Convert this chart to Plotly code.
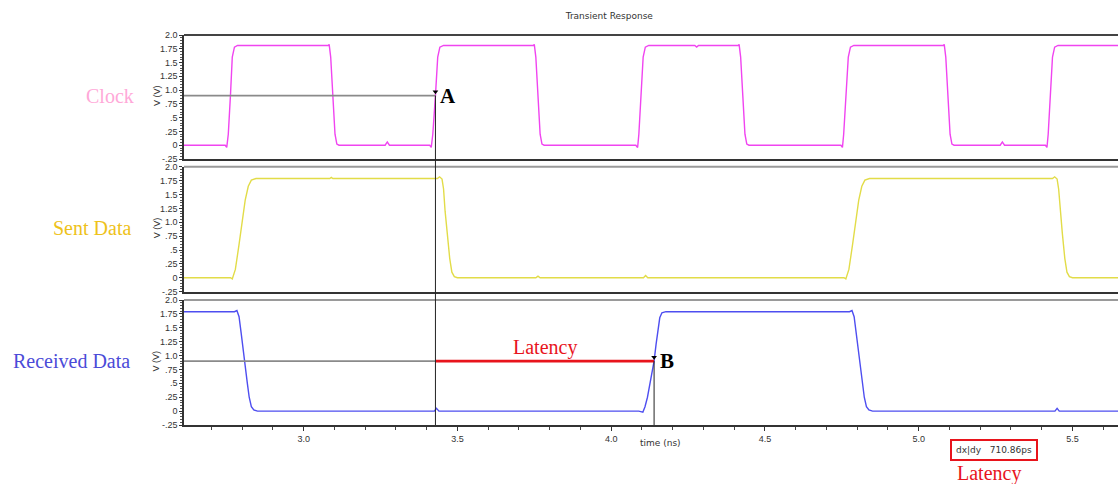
import plotly.graph_objects as go

# ---------------- data ----------------
x_range = [2.611, 5.648]
cursor_a = 3.4286   # ns, clock crossing 0.9 V
cursor_b = 4.1395   # ns, received data crossing 0.9 V
cursor_level = 0.9  # V
latency_text = "dx|dy   710.86ps"

clock_t = [2.611, 2.745, 2.750, 2.755, 2.762, 2.768, 2.775, 2.785,
           3.080, 3.083, 3.088, 3.095, 3.102, 3.108, 3.115,
           3.265, 3.272, 3.279,
           3.410, 3.415, 3.420, 3.4286, 3.436, 3.443, 3.455,
           3.747, 3.750, 3.755, 3.762, 3.769, 3.775, 3.782,
           4.080, 4.086, 4.090, 4.097, 4.104, 4.111, 4.122,
           4.272, 4.278, 4.284,
           4.413, 4.416, 4.421, 4.428, 4.435, 4.441, 4.448,
           4.747, 4.752, 4.756, 4.764, 4.771, 4.778, 4.789,
           5.080, 5.083, 5.088, 5.095, 5.102, 5.108, 5.115,
           5.265, 5.272, 5.279,
           5.412, 5.417, 5.421, 5.428, 5.435, 5.442, 5.453, 5.648]
clock_v = [0.0, 0.0, -0.04, 0.2, 0.9, 1.6, 1.78, 1.81,
           1.81, 1.83, 1.6, 0.9, 0.2, 0.02, 0.0,
           0.0, 0.06, 0.0,
           0.0, -0.04, 0.2, 0.9, 1.6, 1.78, 1.81,
           1.81, 1.83, 1.6, 0.9, 0.2, 0.02, 0.0,
           0.0, -0.04, 0.2, 0.9, 1.6, 1.78, 1.81,
           1.81, 1.78, 1.81,
           1.81, 1.83, 1.6, 0.9, 0.2, 0.02, 0.0,
           0.0, -0.04, 0.2, 0.9, 1.6, 1.78, 1.81,
           1.81, 1.83, 1.6, 0.9, 0.2, 0.02, 0.0,
           0.0, 0.06, 0.0,
           0.0, -0.04, 0.2, 0.9, 1.6, 1.78, 1.81, 1.81]

sent_t = [2.611, 2.762, 2.768, 2.778, 2.790, 2.800, 2.810, 2.820, 2.830, 2.845,
          3.085, 3.090, 3.095,
          3.435, 3.442, 3.450, 3.455, 3.460, 3.467, 3.475, 3.482, 3.490, 3.500,
          3.755, 3.762, 3.769,
          4.105, 4.112, 4.119,
          4.757, 4.763, 4.773, 4.785, 4.795, 4.805, 4.815, 4.825, 4.840,
          5.435, 5.442, 5.450, 5.455, 5.460, 5.467, 5.475, 5.482, 5.490, 5.500, 5.648]
sent_v = [0.0, 0.0, -0.02, 0.15, 0.6, 1.0, 1.4, 1.65, 1.76, 1.79,
          1.79, 1.81, 1.79,
          1.79, 1.82, 1.78, 1.6, 1.2, 0.8, 0.35, 0.1, 0.02, 0.0,
          0.0, 0.03, 0.0,
          0.0, 0.04, 0.0,
          0.0, -0.02, 0.15, 0.6, 1.0, 1.4, 1.65, 1.76, 1.79,
          1.79, 1.82, 1.78, 1.6, 1.2, 0.8, 0.35, 0.1, 0.02, 0.0, 0.0]

recv_t = [2.611, 2.775, 2.783, 2.790, 2.797, 2.803, 2.810, 2.817, 2.823, 2.830, 2.838, 2.850,
          3.425, 3.432, 3.440,
          4.090, 4.103, 4.110, 4.118, 4.125, 4.133, 4.1395, 4.146, 4.152, 4.158, 4.165, 4.178,
          4.775, 4.783, 4.790, 4.797, 4.803, 4.810, 4.817, 4.823, 4.830, 4.838, 4.850,
          5.443, 5.450, 5.457, 5.648]
recv_v = [1.79, 1.79, 1.81, 1.7, 1.4, 1.1, 0.85, 0.5, 0.25, 0.08, 0.02, 0.0,
          0.0, 0.05, 0.0,
          0.0, -0.02, 0.08, 0.25, 0.45, 0.7, 0.9, 1.2, 1.5, 1.68, 1.77, 1.79,
          1.79, 1.81, 1.7, 1.4, 1.1, 0.85, 0.5, 0.25, 0.08, 0.02, 0.0,
          0.0, 0.05, 0.0, 0.0]

y_tickvals = [-0.25, 0, 0.25, 0.5, 0.75, 1.0, 1.25, 1.5, 1.75, 2.0]
y_ticktext = ["-.25", "0", ".25", ".5", ".75", "1.0", "1.25", "1.5", "1.75", "2.0"]
x_tickvals = [3.0, 3.5, 4.0, 4.5, 5.0, 5.5]
x_ticktext = ["3.0", "3.5", "4.0", "4.5", "5.0", "5.5"]
y_range = [-0.25, 2.0]

panel_names = ["Clock", "Sent Data", "Received Data"]
panel_label_colors = ["#FFA8D8", "#EEC21A", "#4B4BD8"]
trace_colors = ["#F044F0", "#E2DC48", "#4E4EF0"]

# ---------------- layout geometry ----------------
W, H = 1118, 484
domains = [[0.682, 1.0], [0.342, 0.662], [0.0, 0.3205]]
label_right = [-0.051, -0.055, -0.056]
axis_font = dict(family="Liberation Sans", size=9, color="#333333")
small_font = dict(family="DejaVu Sans", size=9, color="#333333")
serif = "Liberation Serif"
panel_axes = [("x2", "y"), ("x3", "y2"), ("x", "y3")]

fig = go.Figure()

series = [(clock_t, clock_v), (sent_t, sent_v), (recv_t, recv_v)]
for i, (t, v) in enumerate(series):
    xa, ya = panel_axes[i]
    fig.add_trace(go.Scatter(
        x=t, y=v, mode="lines", xaxis=xa, yaxis=ya,
        line=dict(color=trace_colors[i], width=1.4), hoverinfo="skip", showlegend=False))

# cursor horizontal lines
fig.add_trace(go.Scatter(x=[x_range[0], cursor_a], y=[cursor_level, cursor_level], mode="lines",
                         xaxis="x2", yaxis="y", line=dict(color="#8A8A8A", width=1.6),
                         hoverinfo="skip", showlegend=False))
fig.add_trace(go.Scatter(x=[x_range[0], cursor_a], y=[cursor_level, cursor_level], mode="lines",
                         xaxis="x", yaxis="y3", line=dict(color="#8A8A8A", width=1.6),
                         hoverinfo="skip", showlegend=False))
fig.add_trace(go.Scatter(x=[cursor_a, cursor_b], y=[cursor_level, cursor_level], mode="lines",
                         xaxis="x", yaxis="y3", line=dict(color="#E8141C", width=2.6),
                         hoverinfo="skip", showlegend=False))
# cursor markers
fig.add_trace(go.Scatter(x=[cursor_a], y=[cursor_level + 0.07], mode="markers", xaxis="x2", yaxis="y",
                         marker=dict(symbol="triangle-down", size=5, color="black"),
                         hoverinfo="skip", showlegend=False))
fig.add_trace(go.Scatter(x=[cursor_b], y=[cursor_level + 0.07], mode="markers", xaxis="x", yaxis="y3",
                         marker=dict(symbol="triangle-down", size=5, color="black"),
                         hoverinfo="skip", showlegend=False))


def yaxis_cfg(dom):
    return dict(domain=dom, range=y_range, tickvals=y_tickvals, ticktext=y_ticktext,
                ticks="outside", ticklen=3, tickcolor="#333", tickwidth=1,
                minor=dict(dtick=0.05, ticks="outside", ticklen=2, tickcolor="#555"),
                showline=True, linecolor="#333", linewidth=1.5, showgrid=False, zeroline=False,
                tickfont=axis_font, fixedrange=True)


common_x = dict(range=x_range, showgrid=False, zeroline=False, fixedrange=True)
fig.update_layout(
    width=W, height=H, margin=dict(l=184, r=0, t=35, b=59),
    paper_bgcolor="white", plot_bgcolor="white",
    title=dict(text="Transient Response", x=0.545, xanchor="center", y=0.968, yanchor="middle",
               font=small_font),
    xaxis=dict(**common_x, anchor="y3", tickvals=x_tickvals, ticktext=x_ticktext,
               ticks="outside", ticklen=4, tickcolor="#333",
               minor=dict(dtick=0.1, tick0=3.0, ticks="outside", ticklen=3, tickcolor="#444"),
               showline=True, linecolor="#333", linewidth=1.5, tickfont=axis_font),
    xaxis2=dict(**common_x, anchor="y", matches="x", showticklabels=False, ticks="",
                showline=True, linecolor="#333", linewidth=1.5),
    xaxis3=dict(**common_x, anchor="y2", matches="x", showticklabels=False, ticks="",
                showline=True, linecolor="#333", linewidth=1.5),
    yaxis=dict(**yaxis_cfg(domains[0]), anchor="x2"),
    yaxis2=dict(**yaxis_cfg(domains[1]), anchor="x3"),
    yaxis3=dict(**yaxis_cfg(domains[2]), anchor="x"),
)

# top frame lines of each panel
top_colors = ["#444444", "#9A9A9A", "#9A9A9A"]
for i, dom in enumerate(domains):
    fig.add_shape(type="line", xref="paper", yref="paper", x0=0, x1=1, y0=dom[1], y1=dom[1],
                  line=dict(color=top_colors[i], width=2))


def paper_y(panel, v):
    d = domains[panel]
    return d[0] + (v - y_range[0]) / (y_range[1] - y_range[0]) * (d[1] - d[0])


# cursor vertical lines
fig.add_shape(type="line", xref="x", yref="paper", x0=cursor_a, x1=cursor_a,
              y0=0, y1=paper_y(0, cursor_level), line=dict(color="#222", width=1))
fig.add_shape(type="line", xref="x", yref="paper", x0=cursor_b, x1=cursor_b,
              y0=0, y1=paper_y(2, cursor_level), line=dict(color="#222", width=1))

# panel labels and y-axis titles
for i, name in enumerate(panel_names):
    fig.add_annotation(text=name, xref="paper", yref="paper", x=label_right[i], xanchor="right",
                       y=paper_y(i, cursor_level), yanchor="middle", showarrow=False,
                       font=dict(family=serif, size=20, color=panel_label_colors[i]))
    fig.add_annotation(text="V (V)", xref="paper", yref="paper", x=-0.0295, xanchor="center",
                       y=paper_y(i, cursor_level), yanchor="middle", showarrow=False,
                       textangle=-90, font=axis_font)

# cursor letters
fig.add_annotation(text="<b>A</b>", xref="x2", yref="y", x=cursor_a, y=cursor_level, xanchor="left",
                   xshift=3, yanchor="middle", showarrow=False,
                   font=dict(family=serif, size=21, color="black"))
fig.add_annotation(text="<b>B</b>", xref="x", yref="y3", x=cursor_b, y=cursor_level, xanchor="left",
                   xshift=4, yanchor="middle", showarrow=False,
                   font=dict(family=serif, size=21, color="black"))
fig.add_annotation(text="Latency", xref="x", yref="y3", x=(cursor_a + cursor_b) / 2, y=cursor_level,
                   yanchor="bottom", yshift=0, showarrow=False,
                   font=dict(family=serif, size=20, color="#E8141C"))

# x axis title
fig.add_annotation(text="time (ns)", xref="paper", yref="paper", x=0.510, y=-0.045, xanchor="center",
                   yanchor="middle", showarrow=False, font=small_font)

# latency readout box
fig.add_annotation(text=latency_text, xref="paper", yref="paper", x=0.867, y=-0.065, xanchor="center",
                   yanchor="middle", showarrow=False, font=small_font,
                   bordercolor="#E8141C", borderwidth=2, borderpad=4, bgcolor="white")
fig.add_annotation(text="Latency", xref="paper", yref="paper", x=0.862, y=-0.125, xanchor="center",
                   yanchor="middle", showarrow=False, font=dict(family=serif, size=20, color="#E8141C"))

fig.write_html("out.html", config={"displayModeBar": False},
               post_script="document.body.style.margin='0';document.body.style.overflow='hidden';")
